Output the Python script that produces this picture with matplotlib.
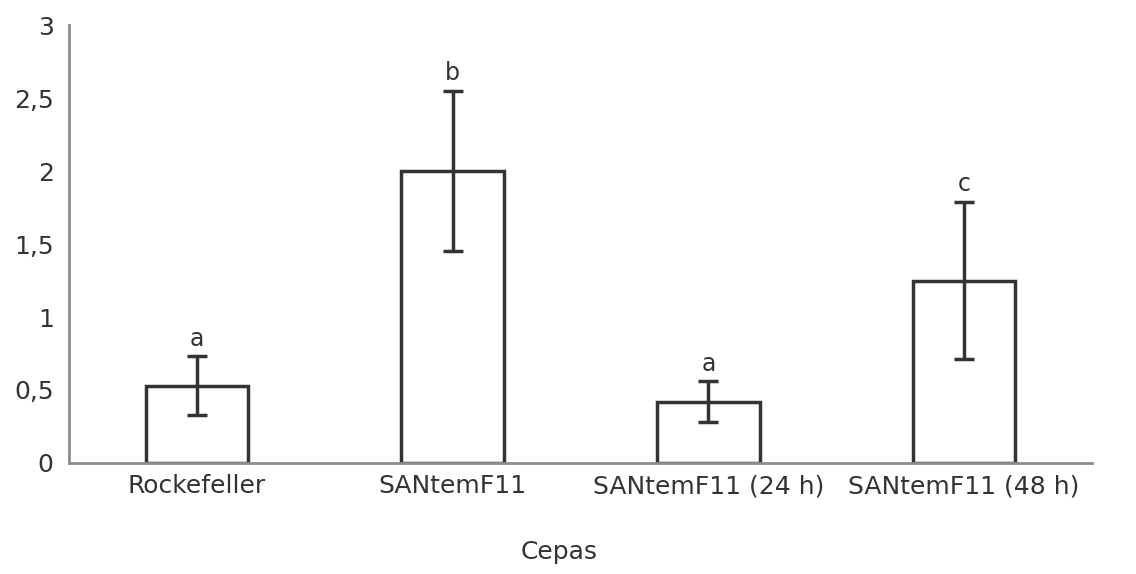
import matplotlib.pyplot as plt

strains = ["Rockefeller", "SANtemF11", "SANtemF11 (24 h)", "SANtemF11 (48 h)"]
means = [0.53, 2.0, 0.42, 1.25]
errors = [0.2, 0.55, 0.14, 0.54]
letters = ["a", "b", "a", "c"]
y_ticks = [0, 0.5, 1, 1.5, 2, 2.5, 3]
y_tick_labels = ["0", "0,5", "1", "1,5", "2", "2,5", "3"]

plt.rcParams["font.family"] = ["DejaVu Sans"]

fig = plt.figure(figsize=(11.36, 5.74), dpi=100)
ax = fig.add_axes([0.0607, 0.1934, 0.9006, 0.763])

x = range(len(strains))
ax.bar(x, means, width=0.4, color="white", edgecolor="#333333", linewidth=2.5, zorder=2)
ax.errorbar(x, means, yerr=errors, fmt="none", ecolor="#333333", elinewidth=2.5,
            capsize=7, capthick=2.5, zorder=3)

for xi, m, e, lab in zip(x, means, errors, letters):
    ax.annotate(lab, (xi, m + e), xytext=(0, 4), textcoords="offset points",
                ha="center", va="bottom", fontsize=17, color="#333333")

ax.set_xlim(-0.5, 3.5)
ax.set_ylim(0, 3)
ax.set_xticks(list(x))
ax.set_xticklabels(strains)
ax.set_yticks(y_ticks)
ax.set_yticklabels(y_tick_labels)
ax.tick_params(axis="both", length=0, labelsize=18, labelcolor="#333333")
ax.tick_params(axis="y", pad=11)
ax.tick_params(axis="x", pad=8)

for side in ["top", "right"]:
    ax.spines[side].set_visible(False)
for side in ["left", "bottom"]:
    ax.spines[side].set_color("#8c8c8c")
    ax.spines[side].set_linewidth(2)

ax.set_xlabel("Cepas", fontsize=18, color="#333333")
ax.xaxis.set_label_coords(0.479, -0.175)

fig.savefig("out.png", dpi=100)
